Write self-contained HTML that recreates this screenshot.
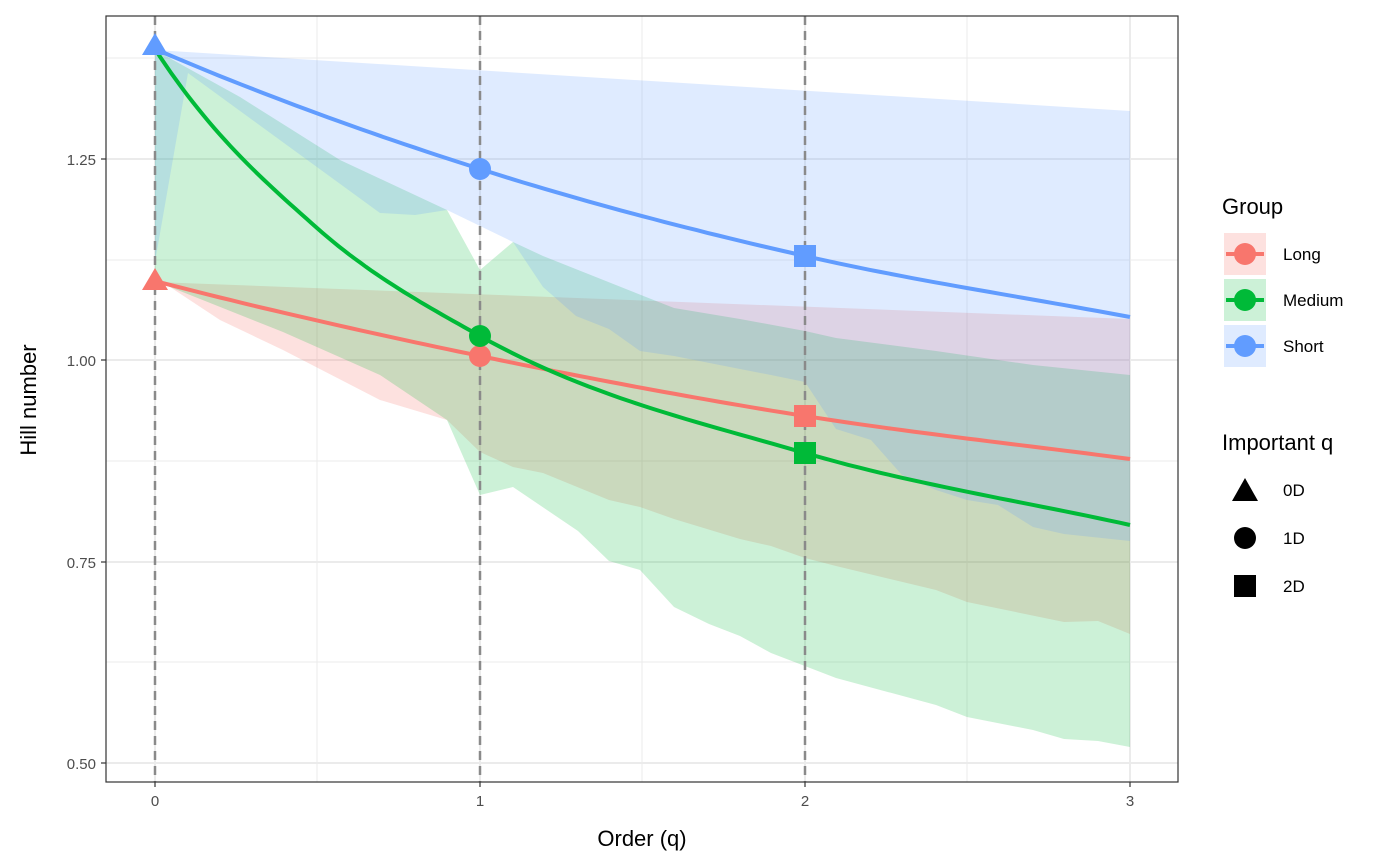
<!DOCTYPE html>
<html><head><meta charset="utf-8"><style>body{margin:0;background:#fff}svg{display:block}text{font-family:"Liberation Sans",Arial,sans-serif}</style></head><body>
<svg id="s" width="1400" height="866" xmlns="http://www.w3.org/2000/svg">
<rect x="106" y="16" width="1072" height="766" fill="#fff"/>
<g stroke="#ebebeb" stroke-width="1">
<line x1="106" x2="1178" y1="58" y2="58"/><line x1="106" x2="1178" y1="260" y2="260"/><line x1="106" x2="1178" y1="461" y2="461"/><line x1="106" x2="1178" y1="662" y2="662"/>
<line y1="16" y2="782" x1="317" x2="317"/><line y1="16" y2="782" x1="642" x2="642"/><line y1="16" y2="782" x1="967" x2="967"/>
</g>
<g stroke="#ebebeb" stroke-width="2">
<line x1="106" x2="1178" y1="159" y2="159"/><line x1="106" x2="1178" y1="360" y2="360"/><line x1="106" x2="1178" y1="562" y2="562"/><line x1="106" x2="1178" y1="763" y2="763"/>
<line y1="16" y2="782" x1="155" x2="155"/><line y1="16" y2="782" x1="480" x2="480"/><line y1="16" y2="782" x1="805" x2="805"/><line y1="16" y2="782" x1="1130" x2="1130"/>
</g>
<polygon fill="#F8766D" fill-opacity="0.22" points="155,282 1130,319 1130,634 1098,621 1064,622 967,602 936,590 836,566 805,558 771,546 740,539 674,519 640,507 609,500 543,473 513,467 480,452 447,420 380,400 283,350 220,320 170,287"/>
<polygon fill="#00BA38" fill-opacity="0.2" points="155,50 240,97 340,160 447,210 480,270 513,242 543,256 646,297 674,308 740,319 805,331 836,338 936,351 1033,365 1130,375 1130,747 1098,741 1064,739 1033,730 967,717 936,705 836,678 771,653 740,636 709,624 674,607 640,570 609,561 578,531 513,487 480,495 447,420 380,375 283,332 170,287 155,282"/>
<polygon fill="#619CFF" fill-opacity="0.2" points="155,50 1130,111 1130,541 1064,534 1033,527 998,505 967,500 936,490 902,475 871,440 836,429 805,382 771,375 740,369 674,356 640,351 609,329 576,316 543,287 513,242 447,210 415,215 380,213 188,73 155,262"/>
<g stroke="#8a8a8a" stroke-width="2.5" stroke-dasharray="9,6"><line x1="155" x2="155" y1="16" y2="782"/><line x1="480" x2="480" y1="16" y2="782"/><line x1="805" x2="805" y1="16" y2="782"/></g>
<g id="curves" fill="none" stroke-width="4"></g>
<g>
<polygon points="155,33 142,55 168,55" fill="#619CFF"/><circle cx="480" cy="169" r="11" fill="#619CFF"/><rect x="794" y="245" width="22" height="22" fill="#619CFF"/>
<polygon points="155,268 142,290 168,290" fill="#F8766D"/><circle cx="480" cy="356" r="11" fill="#F8766D"/><rect x="794" y="405" width="22" height="22" fill="#F8766D"/>
<circle cx="480" cy="336" r="11" fill="#00BA38"/><rect x="794" y="442" width="22" height="22" fill="#00BA38"/>
</g>
<rect x="106" y="16" width="1072" height="766" fill="none" stroke="#333" stroke-width="1.2"/>
<g stroke="#333" stroke-width="1.2"><line x1="101" x2="106" y1="159" y2="159"/><line x1="101" x2="106" y1="360" y2="360"/><line x1="101" x2="106" y1="562" y2="562"/><line x1="101" x2="106" y1="763" y2="763"/>
<line y1="782" y2="787" x1="155" x2="155"/><line y1="782" y2="787" x1="480" x2="480"/><line y1="782" y2="787" x1="805" x2="805"/><line y1="782" y2="787" x1="1130" x2="1130"/></g>
<g fill="#4d4d4d" font-size="15" text-anchor="end"><text x="96" y="165">1.25</text><text x="96" y="366">1.00</text><text x="96" y="568">0.75</text><text x="96" y="769">0.50</text></g>
<g fill="#4d4d4d" font-size="15" text-anchor="middle"><text x="155" y="806">0</text><text x="480" y="806">1</text><text x="805" y="806">2</text><text x="1130" y="806">3</text></g>
<text x="642" y="846" font-size="22" text-anchor="middle">Order (q)</text>
<text transform="translate(36,400) rotate(-90)" font-size="22" text-anchor="middle">Hill number</text>
<text x="1222" y="214" font-size="22">Group</text>
<rect x="1224" y="233" width="42" height="42" fill="#F8766D" fill-opacity="0.22"/><line x1="1226" x2="1264" y1="254" y2="254" stroke="#F8766D" stroke-width="4"/><circle cx="1245" cy="254" r="11" fill="#F8766D"/>
<rect x="1224" y="279" width="42" height="42" fill="#00BA38" fill-opacity="0.2"/><line x1="1226" x2="1264" y1="300" y2="300" stroke="#00BA38" stroke-width="4"/><circle cx="1245" cy="300" r="11" fill="#00BA38"/>
<rect x="1224" y="325" width="42" height="42" fill="#619CFF" fill-opacity="0.2"/><line x1="1226" x2="1264" y1="346" y2="346" stroke="#619CFF" stroke-width="4"/><circle cx="1245" cy="346" r="11" fill="#619CFF"/>
<g font-size="17"><text x="1283" y="260">Long</text><text x="1283" y="306">Medium</text><text x="1283" y="352">Short</text>
<text x="1283" y="496">0D</text><text x="1283" y="544">1D</text><text x="1283" y="592">2D</text></g>
<text x="1222" y="450" font-size="22">Important q</text>
<polygon points="1245,478 1232,501 1258,501"/><circle cx="1245" cy="538" r="11"/><rect x="1234" y="575" width="22" height="22"/>
</svg>
<script>
function mono(xs,ys,m0){var n=xs.length,d=[],m=[];for(var i=0;i<n-1;i++)d.push((ys[i+1]-ys[i])/(xs[i+1]-xs[i]));m[0]=m0||d[0];m[n-1]=d[n-2];for(i=1;i<n-1;i++){var h0=xs[i]-xs[i-1],h1=xs[i+1]-xs[i];m[i]=d[i-1]*d[i]<=0?0:(h0*d[i]+h1*d[i-1])/(h0+h1);}
var pts=[];for(i=0;i<n-1;i++){var h=xs[i+1]-xs[i];for(var k=0;k<30;k++){var t=k/30,t2=t*t,t3=t2*t;var y=(2*t3-3*t2+1)*ys[i]+(t3-2*t2+t)*h*m[i]+(-2*t3+3*t2)*ys[i+1]+(t3-t2)*h*m[i+1];pts.push((xs[i]+t*h).toFixed(1)+","+y.toFixed(1));}}pts.push(xs[n-1]+","+ys[n-1]);return pts.join(" ");}
var g=document.getElementById("curves"),ns="http://www.w3.org/2000/svg";
[["#F8766D",[155,480,805,1130],[281,356,416,459],0.26],["#00BA38",[155,317,480,805,1130],[49,228,336,453,525],1.55],["#619CFF",[155,480,805,1130],[49,169,256,317],0.43]].forEach(function(c){var p=document.createElementNS(ns,"polyline");p.setAttribute("points",mono(c[1],c[2],c[3]));p.setAttribute("stroke",c[0]);g.appendChild(p);});
</script>
</body></html>
